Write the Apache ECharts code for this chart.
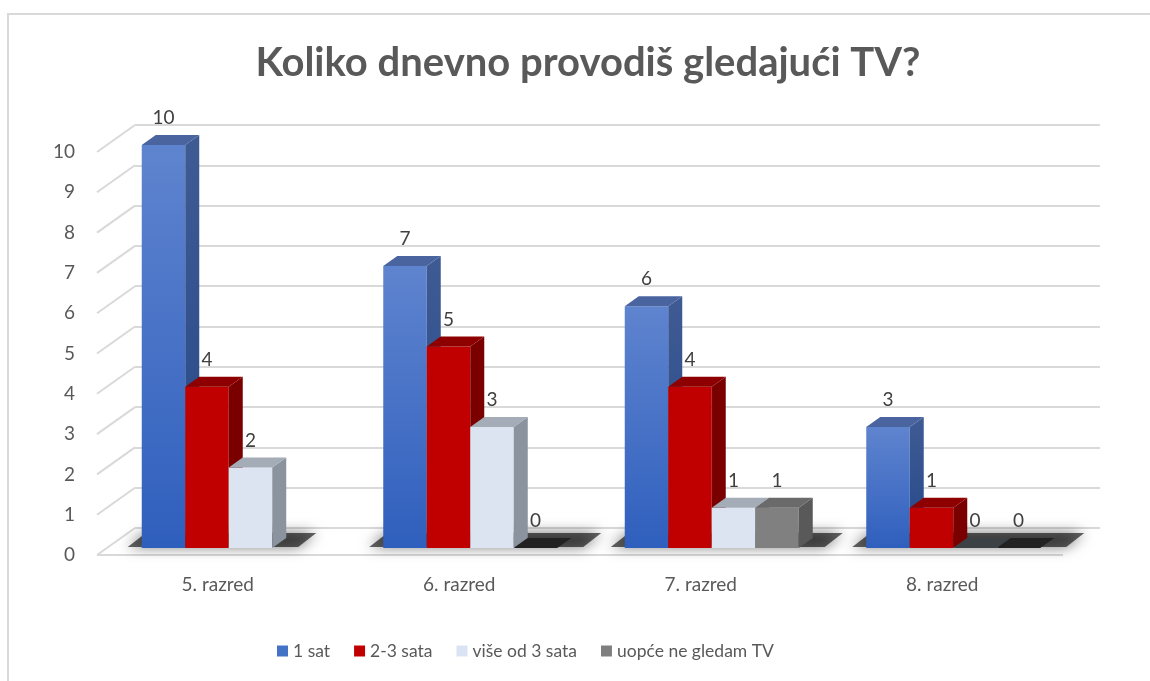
<!DOCTYPE html>
<html>
<head>
<meta charset="utf-8">
<title>Koliko dnevno provodiš gledajući TV?</title>
<script src="https://cdn.jsdelivr.net/npm/echarts@6/dist/echarts.min.js"></script>
</head>
<body style="margin:0">
<div id="main" style="width:1150px;height:681px;"></div>
<script type="text/javascript">
    var categories = ['5. razred', '6. razred', '7. razred', '8. razred'];
    var seriesNames = ['1 sat', '2-3 sata', 'više od 3 sata', 'uopće ne gledam TV'];
    var sat1 = [10, 7, 6, 3];
    var sata23 = [4, 5, 4, 1];
    var vise3 = [2, 3, 1, 0];
    var uopce = [null, 0, 1, 0];
    var values = [sat1, sata23, vise3, uopce];

    // face colours: front, side, top, flat (zero) top
    var faces = [
        {front: {type: 'linear', x: 0, y: 0, x2: 0, y2: 1, colorStops: [{offset: 0, color: '#5f84cf'}, {offset: 1, color: '#2f5fbd'}]},
            side: {type: 'linear', x: 0, y: 0, x2: 0, y2: 1, colorStops: [{offset: 0, color: '#3f5b94'}, {offset: 1, color: '#244789'}]},
            top: '#4a64a0', zero: '#222', legend: '#4472c4'},
        {front: '#c00000', side: '#7a0000', top: '#8e0000', zero: '#222', legend: '#c00000'},
        {front: '#dce3f1', side: '#8a939e', top: '#a4acb8', zero: '#3c4146', legend: '#dae3f3'},
        {front: '#808080', side: '#595959', top: '#6a6a6a', zero: '#222', legend: '#7f7f7f'}
    ];

    var BW = 43.5, OX = 11, OY = -7, DX = 14, DY = -10;
    var WALL_DX = 38, WALL_DY = -27;
    var FONT = 'Lato, "Noto Sans", sans-serif';

    function barGeom(params, api, s, ci, v) {
        var cs = params.coordSys;
        var bandW = cs.width / categories.length;
        var l = cs.x + ci * bandW + (bandW - 4 * BW) / 2 + s * BW + OX;
        var base = api.coord([ci, 0])[1] + OY;
        var top = api.coord([ci, v])[1] + OY;
        return {l: l, base: base, top: top};
    }

    function makeBar(s) {
        return function (params, api) {
            var ci = api.value(0), v = api.value(1);
            var g = barGeom(params, api, s, ci, v);
            var l = g.l, r = g.l + BW, t = g.top, b = g.base;
            var f = faces[s];
            var children = [];
            if (v > 0) {
                children.push({type: 'rect', shape: {x: l, y: t, width: BW, height: b - t}, style: {fill: f.front}});
                children.push({type: 'polygon', shape: {points: [[r, t], [r + DX, t + DY], [r + DX, b + DY], [r, b]]}, style: {fill: f.side}});
                children.push({type: 'polygon', shape: {points: [[l, t], [l + DX, t + DY], [r + DX, t + DY], [r, t]]}, style: {fill: f.top}});
            } else {
                children.push({type: 'polygon', shape: {points: [[l, b], [l + DX, b + DY], [r + DX, b + DY], [r, b]]}, style: {fill: f.zero}});
            }
            children.push({type: 'text', style: {text: String(v), x: l + BW / 2, y: t - 27, fill: '#404040', font: '19px ' + FONT, align: 'center', verticalAlign: 'middle'}});
            return {type: 'group', children: children};
        };
    }

    var series = [];

    // diagonal wall lines and floor front edge
    series.push({
        type: 'custom', name: 'wall', xAxisIndex: 0, yAxisIndex: 0, silent: true, z: 1,
        data: [[0, 0]],
        renderItem: function (params, api) {
            var cs = params.coordSys;
            var children = [];
            for (var k = 0; k <= 10; k++) {
                var y = api.coord([0, k])[1];
                children.push({type: 'line', shape: {x1: cs.x, y1: y, x2: cs.x + WALL_DX, y2: y + WALL_DY}, style: {stroke: '#d9d9d9', lineWidth: 2}});
            }
            var y0 = api.coord([0, 0])[1];
            children.push({type: 'line', shape: {x1: cs.x, y1: y0, x2: cs.x + cs.width, y2: y0}, style: {stroke: '#d9d9d9', lineWidth: 2}});
            return {type: 'group', children: children};
        }
    });

    // soft floor shadows under each group
    var shadowData = categories.map(function (c, ci) {
        var n = 0;
        values.forEach(function (arr) { if (arr[ci] !== null) n++; });
        return [ci, n];
    });
    series.push({
        type: 'custom', name: 'shadow', xAxisIndex: 0, yAxisIndex: 0, silent: true, z: 2,
        data: shadowData,
        renderItem: function (params, api) {
            var ci = api.value(0), n = api.value(1);
            var g0 = barGeom(params, api, 0, ci, 0);
            var x0 = g0.l - 14, x1 = g0.l + n * BW + 26;
            var b = g0.base - 1;
            return {
                type: 'polygon',
                shape: {points: [[x0, b], [x0 + DX + 4, b + DY - 4], [x1 + DX + 4, b + DY - 4], [x1, b]]},
                style: {fill: 'rgba(0,0,0,0.6)', shadowBlur: 14, shadowColor: 'rgba(0,0,0,0.9)'}
            };
        }
    });

    seriesNames.forEach(function (name, s) {
        var data = [];
        values[s].forEach(function (v, ci) { if (v !== null) data.push([ci, v]); });
        series.push({
            type: 'custom', name: name, xAxisIndex: 0, yAxisIndex: 0, z: 3 + s,
            itemStyle: {color: faces[s].legend},
            data: data,
            renderItem: makeBar(s)
        });
    });

    var myChart = echarts.init(document.getElementById('main'));
    var option = {
        animation: false,
        backgroundColor: '#ffffff',
        graphic: [
            {type: 'rect', z: -10, shape: {x: 8, y: 14, width: 1160, height: 700}, style: {fill: '#fff', stroke: '#d9d9d9', lineWidth: 2}},
            {type: 'text', z: 10, style: {text: 'Koliko dnevno provodiš gledajući TV?', x: 588, y: 63, fill: '#595959', font: 'bold 40px ' + FONT, align: 'center', verticalAlign: 'middle'}}
        ],
        legend: {
            data: seriesNames,
            left: 272,
            top: 637,
            icon: 'rect',
            itemWidth: 11,
            itemHeight: 11,
            itemGap: 24,
            textStyle: {color: '#595959', fontSize: 17.5, fontFamily: FONT}
        },
        grid: [
            {left: 97, top: 152, width: 966, height: 403},
            {left: 135, top: 125, width: 965, height: 403}
        ],
        xAxis: [
            {type: 'category', gridIndex: 0, data: categories,
                axisLine: {show: false}, axisTick: {show: false},
                axisLabel: {color: '#595959', fontSize: 19, fontFamily: FONT, margin: 20}},
            {type: 'category', gridIndex: 1, data: categories, show: false}
        ],
        yAxis: [
            {type: 'value', gridIndex: 0, min: 0, max: 10, interval: 1,
                axisLine: {show: false}, axisTick: {show: false}, splitLine: {show: false},
                axisLabel: {color: '#595959', fontSize: 19, fontFamily: FONT, margin: 22}},
            {type: 'value', gridIndex: 1, min: 0, max: 10, interval: 1,
                axisLine: {show: false}, axisTick: {show: false}, axisLabel: {show: false},
                splitLine: {lineStyle: {color: '#d9d9d9', width: 2}}}
        ],
        series: series
    };
    myChart.setOption(option);
</script>
</body>
</html>
